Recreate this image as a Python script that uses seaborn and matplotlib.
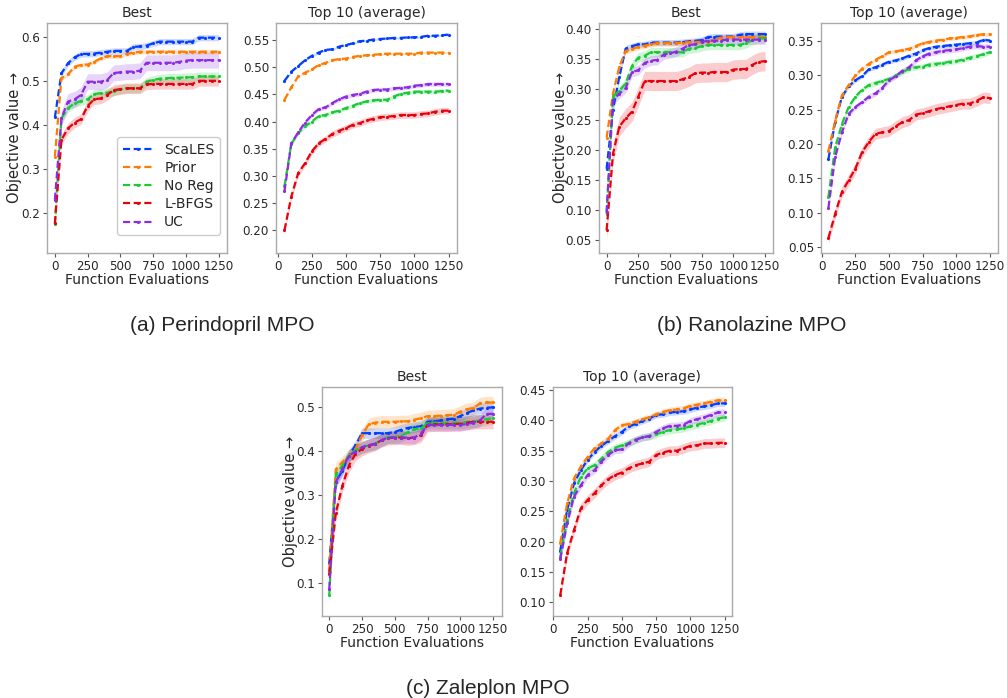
import numpy as np
import pandas as pd
import matplotlib
matplotlib.use("Agg")
import matplotlib.pyplot as plt
import seaborn as sns
from matplotlib.ticker import FormatStrFormatter

METHODS = ["ScaLES", "Prior", "No Reg", "L-BFGS", "UC"]

BEST_EVALS = [0, 50, 100, 150, 200, 250, 300, 350, 400, 450, 500, 550, 600,
              650, 700, 750, 800, 850, 900, 950, 1000, 1050, 1100, 1150, 1200, 1250]
TOP_EVALS = [50, 100, 150, 200, 250, 300, 350, 400, 450, 500, 550, 600,
             650, 700, 750, 800, 850, 900, 950, 1000, 1050, 1100, 1150, 1200, 1250]

# ---------------- (a) Perindopril MPO ----------------
PER_BEST_SCALES = [0.417, 0.517, 0.540, 0.553, 0.561, 0.561, 0.562, 0.564, 0.566, 0.568, 0.568, 0.568, 0.577,
                   0.578, 0.580, 0.585, 0.589, 0.589, 0.589, 0.589, 0.589, 0.589, 0.598, 0.598, 0.598, 0.598]
PER_BEST_PRIOR = [0.328, 0.506, 0.515, 0.532, 0.536, 0.537, 0.543, 0.551, 0.556, 0.556, 0.556, 0.561, 0.564,
                  0.566, 0.566, 0.566, 0.566, 0.566, 0.566, 0.566, 0.566, 0.566, 0.566, 0.566, 0.566, 0.566]
PER_BEST_NOREG = [0.174, 0.415, 0.438, 0.449, 0.454, 0.458, 0.470, 0.472, 0.473, 0.476, 0.481, 0.483, 0.483,
                  0.483, 0.498, 0.502, 0.505, 0.506, 0.507, 0.507, 0.508, 0.508, 0.510, 0.510, 0.510, 0.510]
PER_BEST_LBFGS = [0.177, 0.366, 0.392, 0.405, 0.413, 0.443, 0.458, 0.460, 0.468, 0.479, 0.481, 0.483, 0.483,
                  0.483, 0.492, 0.493, 0.493, 0.493, 0.493, 0.493, 0.493, 0.493, 0.500, 0.500, 0.500, 0.500]
PER_BEST_UC = [0.230, 0.415, 0.453, 0.458, 0.468, 0.498, 0.498, 0.498, 0.502, 0.518, 0.519, 0.521, 0.521,
               0.523, 0.541, 0.541, 0.541, 0.541, 0.541, 0.543, 0.546, 0.547, 0.547, 0.547, 0.547, 0.547]
PER_BEST_ERR = [0.007, 0.005, 0.010, 0.012, 0.018]

PER_TOP_SCALES = [0.475, 0.492, 0.502, 0.513, 0.521, 0.527, 0.532, 0.533, 0.538, 0.541, 0.544, 0.548, 0.549,
                  0.551, 0.552, 0.553, 0.554, 0.554, 0.555, 0.555, 0.556, 0.558, 0.558, 0.559, 0.560]
PER_TOP_PRIOR = [0.440, 0.463, 0.483, 0.490, 0.496, 0.504, 0.508, 0.513, 0.515, 0.516, 0.519, 0.521, 0.522,
                 0.523, 0.524, 0.525, 0.525, 0.525, 0.525, 0.525, 0.527, 0.527, 0.527, 0.527, 0.527]
PER_TOP_NOREG = [0.281, 0.359, 0.379, 0.391, 0.400, 0.410, 0.412, 0.417, 0.420, 0.425, 0.429, 0.434, 0.437,
                 0.439, 0.440, 0.440, 0.446, 0.451, 0.453, 0.455, 0.455, 0.455, 0.455, 0.456, 0.457]
PER_TOP_LBFGS = [0.200, 0.262, 0.305, 0.323, 0.345, 0.360, 0.368, 0.377, 0.383, 0.388, 0.394, 0.397, 0.402,
                 0.405, 0.408, 0.409, 0.410, 0.412, 0.412, 0.412, 0.414, 0.415, 0.418, 0.420, 0.420]
PER_TOP_UC = [0.272, 0.360, 0.380, 0.398, 0.412, 0.423, 0.426, 0.434, 0.441, 0.446, 0.449, 0.451, 0.455,
              0.458, 0.459, 0.459, 0.461, 0.462, 0.463, 0.466, 0.467, 0.469, 0.469, 0.469, 0.469]
PER_TOP_ERR = [0.002, 0.002, 0.004, 0.006, 0.004]

# ---------------- (b) Ranolazine MPO ----------------
RAN_BEST_SCALES = [0.168, 0.266, 0.321, 0.368, 0.372, 0.375, 0.375, 0.378, 0.378, 0.378, 0.378, 0.378, 0.379,
                   0.380, 0.381, 0.382, 0.387, 0.388, 0.388, 0.388, 0.388, 0.391, 0.392, 0.392, 0.392, 0.392]
RAN_BEST_PRIOR = [0.220, 0.293, 0.338, 0.364, 0.367, 0.371, 0.373, 0.375, 0.377, 0.377, 0.377, 0.377, 0.378,
                  0.379, 0.379, 0.379, 0.379, 0.383, 0.386, 0.387, 0.387, 0.387, 0.387, 0.387, 0.388, 0.388]
RAN_BEST_NOREG = [0.093, 0.288, 0.298, 0.310, 0.339, 0.353, 0.356, 0.362, 0.362, 0.362, 0.362, 0.362, 0.362,
                  0.368, 0.369, 0.372, 0.374, 0.374, 0.374, 0.374, 0.374, 0.374, 0.377, 0.382, 0.385, 0.385]
RAN_BEST_LBFGS = [0.066, 0.193, 0.238, 0.252, 0.263, 0.288, 0.314, 0.314, 0.314, 0.314, 0.314, 0.314, 0.317,
                  0.321, 0.327, 0.328, 0.328, 0.329, 0.329, 0.329, 0.333, 0.334, 0.334, 0.341, 0.346, 0.347]
RAN_BEST_UC = [0.096, 0.282, 0.293, 0.302, 0.329, 0.332, 0.344, 0.348, 0.349, 0.358, 0.360, 0.363, 0.368,
               0.374, 0.375, 0.379, 0.381, 0.381, 0.381, 0.383, 0.383, 0.383, 0.383, 0.383, 0.383, 0.383]
RAN_BEST_ERR = [0.005, 0.005, 0.008, 0.016, 0.008]

RAN_TOP_SCALES = [0.178, 0.232, 0.269, 0.284, 0.293, 0.299, 0.309, 0.312, 0.316, 0.320, 0.322, 0.325, 0.329,
                  0.332, 0.337, 0.340, 0.342, 0.343, 0.344, 0.345, 0.346, 0.347, 0.348, 0.352, 0.351]
RAN_TOP_PRIOR = [0.190, 0.234, 0.271, 0.286, 0.300, 0.310, 0.317, 0.323, 0.328, 0.334, 0.335, 0.337, 0.339,
                 0.343, 0.347, 0.349, 0.351, 0.352, 0.354, 0.355, 0.356, 0.357, 0.359, 0.360, 0.360]
RAN_TOP_NOREG = [0.123, 0.195, 0.229, 0.254, 0.269, 0.279, 0.286, 0.289, 0.292, 0.295, 0.300, 0.305, 0.310,
                 0.312, 0.313, 0.316, 0.317, 0.318, 0.320, 0.321, 0.323, 0.326, 0.328, 0.331, 0.334]
RAN_TOP_LBFGS = [0.063, 0.098, 0.130, 0.147, 0.164, 0.188, 0.203, 0.215, 0.217, 0.219, 0.226, 0.232, 0.235,
                 0.243, 0.245, 0.248, 0.251, 0.253, 0.255, 0.257, 0.259, 0.259, 0.263, 0.268, 0.267]
RAN_TOP_UC = [0.107, 0.181, 0.217, 0.244, 0.254, 0.261, 0.269, 0.274, 0.282, 0.293, 0.299, 0.307, 0.312,
              0.322, 0.328, 0.332, 0.334, 0.336, 0.337, 0.338, 0.340, 0.342, 0.343, 0.342, 0.342]
RAN_TOP_ERR = [0.003, 0.003, 0.004, 0.008, 0.004]

# ---------------- (c) Zaleplon MPO ----------------
ZAL_BEST_SCALES = [0.144, 0.330, 0.355, 0.390, 0.413, 0.441, 0.441, 0.441, 0.441, 0.441, 0.444, 0.449, 0.453,
                   0.455, 0.457, 0.467, 0.468, 0.470, 0.473, 0.474, 0.480, 0.487, 0.493, 0.497, 0.499, 0.500]
ZAL_BEST_PRIOR = [0.129, 0.359, 0.375, 0.390, 0.405, 0.436, 0.461, 0.465, 0.467, 0.467, 0.467, 0.468, 0.468,
                  0.472, 0.475, 0.480, 0.480, 0.481, 0.482, 0.483, 0.490, 0.496, 0.498, 0.509, 0.511, 0.511]
ZAL_BEST_NOREG = [0.071, 0.348, 0.367, 0.390, 0.402, 0.409, 0.413, 0.417, 0.425, 0.432, 0.432, 0.435, 0.443,
                  0.450, 0.452, 0.465, 0.465, 0.465, 0.465, 0.465, 0.465, 0.467, 0.468, 0.470, 0.473, 0.475]
ZAL_BEST_LBFGS = [0.120, 0.259, 0.321, 0.367, 0.394, 0.405, 0.412, 0.417, 0.425, 0.430, 0.431, 0.431, 0.429,
                  0.431, 0.436, 0.460, 0.461, 0.461, 0.461, 0.462, 0.462, 0.465, 0.467, 0.467, 0.467, 0.467]
ZAL_BEST_UC = [0.086, 0.329, 0.359, 0.390, 0.399, 0.409, 0.414, 0.417, 0.425, 0.431, 0.431, 0.431, 0.431,
               0.431, 0.440, 0.460, 0.460, 0.460, 0.460, 0.460, 0.460, 0.462, 0.465, 0.470, 0.485, 0.485]
ZAL_BEST_ERR = [0.012, 0.014, 0.014, 0.016, 0.014]

ZAL_TOP_SCALES = [0.185, 0.252, 0.296, 0.318, 0.335, 0.348, 0.358, 0.366, 0.374, 0.381, 0.390, 0.394, 0.399,
                  0.403, 0.409, 0.410, 0.413, 0.414, 0.415, 0.418, 0.421, 0.423, 0.425, 0.428, 0.428]
ZAL_TOP_PRIOR = [0.198, 0.263, 0.304, 0.324, 0.340, 0.354, 0.362, 0.370, 0.384, 0.392, 0.394, 0.398, 0.402,
                 0.405, 0.410, 0.414, 0.417, 0.418, 0.420, 0.424, 0.426, 0.428, 0.431, 0.433, 0.433]
ZAL_TOP_NOREG = [0.175, 0.236, 0.280, 0.307, 0.321, 0.326, 0.337, 0.348, 0.355, 0.359, 0.363, 0.368, 0.372,
                 0.374, 0.377, 0.381, 0.384, 0.385, 0.387, 0.390, 0.393, 0.396, 0.399, 0.403, 0.405]
ZAL_TOP_LBFGS = [0.112, 0.181, 0.219, 0.255, 0.269, 0.280, 0.293, 0.303, 0.310, 0.314, 0.321, 0.326, 0.329,
                 0.332, 0.343, 0.347, 0.350, 0.350, 0.354, 0.358, 0.359, 0.362, 0.362, 0.363, 0.363]
ZAL_TOP_UC = [0.171, 0.230, 0.274, 0.293, 0.310, 0.318, 0.332, 0.343, 0.351, 0.352, 0.362, 0.368, 0.372,
              0.374, 0.381, 0.387, 0.391, 0.391, 0.393, 0.399, 0.402, 0.405, 0.409, 0.413, 0.413]
ZAL_TOP_ERR = [0.005, 0.005, 0.006, 0.008, 0.006]

X_TICKS = [0, 250, 500, 750, 1000, 1250]
PER_BEST_YTICKS = [0.2, 0.3, 0.4, 0.5, 0.6]
PER_TOP_YTICKS = [0.20, 0.25, 0.30, 0.35, 0.40, 0.45, 0.50, 0.55]
RAN_BEST_YTICKS = [0.05, 0.10, 0.15, 0.20, 0.25, 0.30, 0.35, 0.40]
RAN_TOP_YTICKS = [0.05, 0.10, 0.15, 0.20, 0.25, 0.30, 0.35]
ZAL_BEST_YTICKS = [0.1, 0.2, 0.3, 0.4, 0.5]
ZAL_TOP_YTICKS = [0.10, 0.15, 0.20, 0.25, 0.30, 0.35, 0.40, 0.45]

CAPTIONS = ["(a) Perindopril MPO", "(b) Ranolazine MPO", "(c) Zaleplon MPO"]

sns.set_theme(style="ticks")
plt.rcParams["font.family"] = ["DejaVu Sans"]

bright = sns.color_palette("bright")
palette = {"ScaLES": bright[0], "Prior": bright[1], "No Reg": bright[2],
           "L-BFGS": bright[3], "UC": bright[4]}


def make_frame(evals, series, errs):
    rows = []
    for name, vals, e in zip(METHODS, series, errs):
        for x, v in zip(evals, vals):
            for d in (-e, 0.0, e):
                rows.append({"evals": x, "value": v + d, "method": name})
    return pd.DataFrame(rows)


W, H = 1007, 698
fig = plt.figure(figsize=(W / 100, H / 100), dpi=100)


def px_axes(left, right, top, bottom):
    return fig.add_axes([left / W, 1 - bottom / H, (right - left) / W, (bottom - top) / H])


panels = [
    ((46.7, 226.7, 22.7, 253), BEST_EVALS,
     [PER_BEST_SCALES, PER_BEST_PRIOR, PER_BEST_NOREG, PER_BEST_LBFGS, PER_BEST_UC], PER_BEST_ERR,
     "Best", PER_BEST_YTICKS, (0.109, 0.632), (-62.5, 1312.5), "%.1f", 15),
    ((276, 457, 22.7, 253), TOP_EVALS,
     [PER_TOP_SCALES, PER_TOP_PRIOR, PER_TOP_NOREG, PER_TOP_LBFGS, PER_TOP_UC], PER_TOP_ERR,
     "Top 10 (average)", PER_TOP_YTICKS, (0.158, 0.582), (-12, 1312), "%.2f", None),
    ((598.7, 773, 22.7, 253), BEST_EVALS,
     [RAN_BEST_SCALES, RAN_BEST_PRIOR, RAN_BEST_NOREG, RAN_BEST_LBFGS, RAN_BEST_UC], RAN_BEST_ERR,
     "Best", RAN_BEST_YTICKS, (0.028, 0.411), (-62.5, 1312.5), "%.2f", 560),
    ((821, 997.7, 22.7, 253), TOP_EVALS,
     [RAN_TOP_SCALES, RAN_TOP_PRIOR, RAN_TOP_NOREG, RAN_TOP_LBFGS, RAN_TOP_UC], RAN_TOP_ERR,
     "Top 10 (average)", RAN_TOP_YTICKS, (0.041, 0.377), (-5, 1307), "%.2f", None),
    ((322.3, 502, 386.7, 616), BEST_EVALS,
     [ZAL_BEST_SCALES, ZAL_BEST_PRIOR, ZAL_BEST_NOREG, ZAL_BEST_LBFGS, ZAL_BEST_UC], ZAL_BEST_ERR,
     "Best", ZAL_BEST_YTICKS, (0.024, 0.547), (-53, 1318), "%.1f", 291),
    ((552.7, 732, 386.7, 616), TOP_EVALS,
     [ZAL_TOP_SCALES, ZAL_TOP_PRIOR, ZAL_TOP_NOREG, ZAL_TOP_LBFGS, ZAL_TOP_UC], ZAL_TOP_ERR,
     "Top 10 (average)", ZAL_TOP_YTICKS, (0.0775, 0.4555), (-5, 1303), "%.2f", None),
]

for i, (box, evals, series, errs, title, yticks, ylim, xlim, fmt, ylab_x) in enumerate(panels):
    ax = px_axes(*box)
    df = make_frame(evals, series, errs)
    sns.lineplot(data=df, x="evals", y="value", hue="method", hue_order=METHODS,
                 palette=palette, errorbar=("pi", 100), ax=ax, legend=False,
                 linestyle=(0, (3.2, 1.6)), linewidth=1.6, marker=".", markersize=4.5,
                 markeredgewidth=0, err_kws={"alpha": 0.2, "linewidth": 0})
    ax.set_xlim(*xlim)
    ax.set_ylim(*ylim)
    ax.set_xticks(X_TICKS)
    ax.set_yticks(yticks)
    ax.yaxis.set_major_formatter(FormatStrFormatter(fmt))
    ax.set_title(title, fontsize=10, pad=4)
    ax.set_xlabel("Function Evaluations", fontsize=10, labelpad=0)
    if ylab_x is not None:
        ax.set_ylabel("Objective value \u2192", fontsize=10.5, va="center")
        ax.yaxis.set_label_coords((ylab_x - box[0]) / (box[1] - box[0]), 0.5)
    else:
        ax.set_ylabel("")
    ax.tick_params(labelsize=8.6, color="#555555", length=3, width=0.8, pad=2)
    for s in ax.spines.values():
        s.set_color("#aaaaaa")
        s.set_linewidth(1.0)
    if i == 0:
        handles = ax.lines[:5]
        ax.legend(handles, METHODS, loc="lower right", bbox_to_anchor=(0.963, 0.078),
                  borderaxespad=0, fontsize=10, labelspacing=0.3,
                  handlelength=2.2, borderpad=0.4, frameon=True, fancybox=True,
                  edgecolor="#cccccc", framealpha=1.0)

fig.text(222 / W, 1 - 325 / H, CAPTIONS[0], family="Liberation Sans", fontsize=15,
         ha="center", va="center")
fig.text(752 / W, 1 - 325 / H, CAPTIONS[1], family="Liberation Sans", fontsize=15,
         ha="center", va="center")
fig.text(488 / W, 1 - 688 / H, CAPTIONS[2], family="Liberation Sans", fontsize=15,
         ha="center", va="center")

fig.savefig("out.png", dpi=100, facecolor="white")
